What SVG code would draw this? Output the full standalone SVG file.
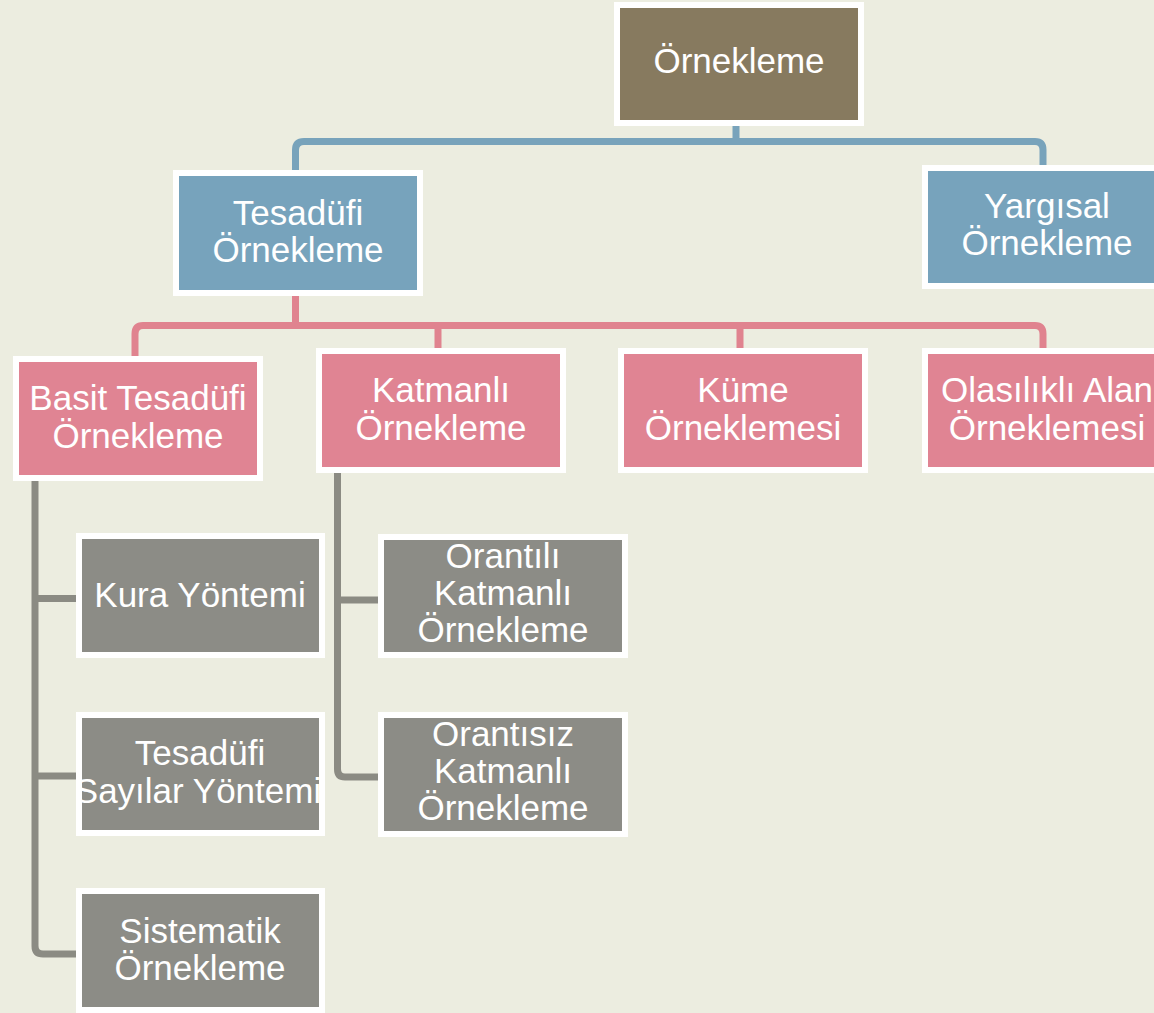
<svg xmlns="http://www.w3.org/2000/svg" width="1154" height="1013" viewBox="0 0 1154 1013">
  <style>
    .frame { fill: #ffffff; }
    .brown { fill: #877a5f; }
    .blue { fill: #77a3bc; }
    .pink { fill: #e08493; }
    .gray { fill: #8c8c86; }
    .lbl { fill: #ffffff; font-family: "Liberation Sans", Arial, sans-serif; font-size: 35px; text-anchor: middle; }
    .link { fill: none; stroke-width: 7; stroke-linejoin: round; }
    .l-blue { stroke: #78a3bb; }
    .l-pink { stroke: #e0838f; }
    .l-gray { stroke: #8b8b83; }
  </style>
  <rect width="1154" height="1013" fill="#ecede0"/>

  <!-- connectors -->
  <g id="connectors">
    <path class="link l-blue" d="M736,126 V141.5"/>
    <path class="link l-blue" d="M295.5,170 V150 Q295.5,141.5 304,141.5 H1035 Q1043,141.5 1043,150 V165"/>
    <path class="link l-pink" d="M295.5,296 V325.5"/>
    <path class="link l-pink" d="M135,356 V334 Q135,325.5 143,325.5 H1035 Q1043,325.5 1043,334 V348"/>
    <path class="link l-pink" d="M438,325.5 V348"/>
    <path class="link l-pink" d="M740,325.5 V348"/>
    <path class="link l-gray" d="M35,481 V946 Q35,954 43,954 H76"/>
    <path class="link l-gray" d="M35,598.5 H76"/>
    <path class="link l-gray" d="M35,776 H76"/>
    <path class="link l-gray" d="M337.5,473 V769 Q337.5,777 345,777 H378"/>
    <path class="link l-gray" d="M337.5,600 H378"/>
  </g>

  <!-- root -->
  <g id="ornekleme">
    <rect class="frame" x="614" y="2" width="250" height="124"/>
    <rect class="brown" x="620" y="8" width="238" height="112"/>
    <text class="lbl" x="739" y="73">Örnekleme</text>
  </g>

  <g id="tesadufi">
    <rect class="frame" x="173" y="170" width="250" height="126"/>
    <rect class="blue" x="179" y="176" width="238" height="114"/>
    <text class="lbl" x="298" y="225">Tesadüfi</text>
    <text class="lbl" x="298" y="262">Örnekleme</text>
  </g>

  <g id="yargisal">
    <rect class="frame" x="922" y="165" width="250" height="124"/>
    <rect class="blue" x="928" y="171" width="238" height="112"/>
    <text class="lbl" x="1047" y="218">Yargısal</text>
    <text class="lbl" x="1047" y="255">Örnekleme</text>
  </g>

  <g id="basit">
    <rect class="frame" x="13" y="356" width="250" height="125"/>
    <rect class="pink" x="19" y="362" width="238" height="113"/>
    <text class="lbl" x="138" y="410">Basit Tesadüfi</text>
    <text class="lbl" x="138" y="448">Örnekleme</text>
  </g>

  <g id="katmanli">
    <rect class="frame" x="316" y="348" width="250" height="125"/>
    <rect class="pink" x="322" y="354" width="238" height="113"/>
    <text class="lbl" x="441" y="402">Katmanlı</text>
    <text class="lbl" x="441" y="440">Örnekleme</text>
  </g>

  <g id="kume">
    <rect class="frame" x="618" y="348" width="250" height="125"/>
    <rect class="pink" x="624" y="354" width="238" height="113"/>
    <text class="lbl" x="743" y="402">Küme</text>
    <text class="lbl" x="743" y="440">Örneklemesi</text>
  </g>

  <g id="olasilikli">
    <rect class="frame" x="922" y="348" width="250" height="125"/>
    <rect class="pink" x="928" y="354" width="238" height="113"/>
    <text class="lbl" x="1047" y="402">Olasılıklı Alan</text>
    <text class="lbl" x="1047" y="440">Örneklemesi</text>
  </g>

  <g id="kura">
    <rect class="frame" x="76" y="533" width="249" height="125"/>
    <rect class="gray" x="82" y="539" width="237" height="113"/>
    <text class="lbl" x="200" y="607">Kura Yöntemi</text>
  </g>

  <g id="tesadufi-sayilar">
    <rect class="frame" x="76" y="712" width="249" height="124"/>
    <rect class="gray" x="82" y="718" width="237" height="112"/>
    <text class="lbl" x="200" y="765">Tesadüfi</text>
    <text class="lbl" x="198" y="803">Sayılar Yöntemi</text>
  </g>

  <g id="sistematik">
    <rect class="frame" x="76" y="888" width="249" height="125"/>
    <rect class="gray" x="82" y="894" width="237" height="113"/>
    <text class="lbl" x="200" y="943">Sistematik</text>
    <text class="lbl" x="200" y="980">Örnekleme</text>
  </g>

  <g id="orantili">
    <rect class="frame" x="378" y="534" width="250" height="124"/>
    <rect class="gray" x="384" y="540" width="238" height="112"/>
    <text class="lbl" x="503" y="568">Orantılı</text>
    <text class="lbl" x="503" y="605">Katmanlı</text>
    <text class="lbl" x="503" y="642">Örnekleme</text>
  </g>

  <g id="orantisiz">
    <rect class="frame" x="378" y="712" width="250" height="125"/>
    <rect class="gray" x="384" y="718" width="238" height="113"/>
    <text class="lbl" x="503" y="746">Orantısız</text>
    <text class="lbl" x="503" y="783">Katmanlı</text>
    <text class="lbl" x="503" y="820">Örnekleme</text>
  </g>
</svg>
